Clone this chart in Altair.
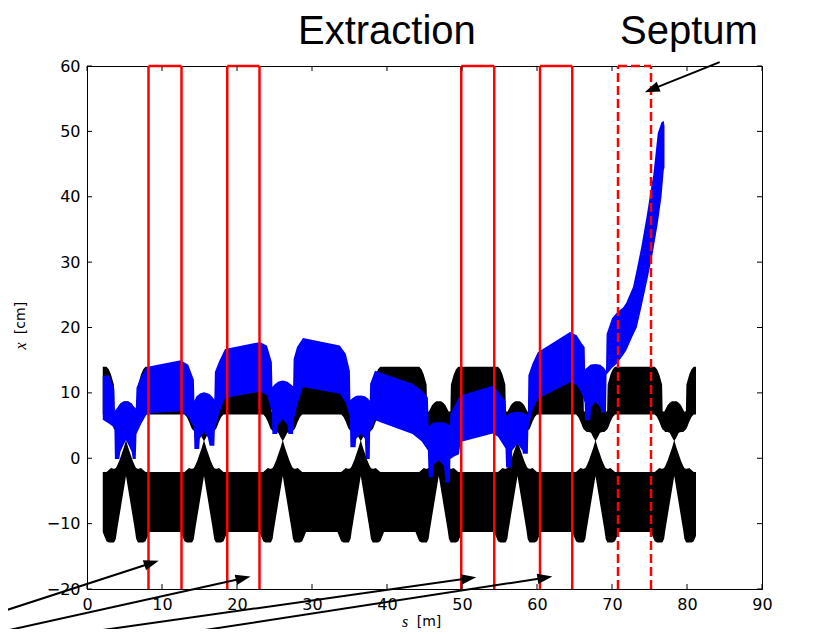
import math
import altair as alt
import pandas as pd

# ---------------- data ----------------
# quadrupole centres (s, m) of the circulating-beam envelope
QUADS = [5.2, 15.6, 26.1, 36.5, 46.9, 57.4, 67.8, 78.3]
ENV_START, ENV_END = 2.1, 81.2
# envelope profile around each quad: distance from quad centre (m) and edges (cm)
D_OFF = [0.0, 0.3, 0.6, 0.9, 1.2, 1.35, 1.55, 1.62, 1.7, 2.0, 2.3, 2.6, 2.9, 3.1]
UP_TOP = [8.7, 8.7, 8.5, 8.1, 7.4, 7.1, 7.2, 11.3, 11.6, 12.8, 13.6, 14.0, 14.0, 14.0]
UP_BOT = [2.6, 3.2, 3.9, 4.0, 4.0, 4.2, 4.4, 4.5, 4.7, 5.6, 6.3, 6.7, 6.7, 6.7]
LO_TOP = [2.8, 1.6, 0.6, -0.4, -1.2, -1.5, -1.6, -1.6, -1.6, -1.5, -1.8, -2.1, -2.1, -2.1]
LO_BOT = [-2.7, -4.8, -6.9, -9.0, -11.1, -12.3, -12.8, -12.9, -12.9, -12.9, -12.9, -12.7, -11.9, -11.3]

# extracted beam (blue band)
BLUE_S = [2.1, 2.9, 3.65, 3.72, 4.0, 4.3, 4.45, 4.85, 5.2, 5.55, 5.95, 6.1, 6.5, 6.6, 7.2, 7.9, 8.6,
          12.5, 13.5, 14.25, 14.32, 14.6, 14.95, 15.05, 15.6, 16.1, 16.35, 16.7, 16.98, 17.05, 17.6,
          18.4, 23.1, 24.0, 24.65, 24.72, 25.0, 25.35, 25.45, 26.1, 26.75, 26.85, 27.2, 27.48, 27.55,
          28.0, 28.8, 33.7, 34.5, 35.05, 35.12, 35.5, 35.8, 35.9, 36.5, 37.05, 37.15, 37.5, 37.7,
          37.75, 38.4, 43.4, 44.6, 45.45, 45.55, 45.9, 46.1, 46.2, 46.9, 47.6, 47.8, 48.1, 48.4,
          48.45, 49.0, 49.6, 49.8, 54.1, 54.8, 55.8, 55.88, 56.2, 56.6, 56.7, 57.4, 58.05, 58.12,
          58.5, 58.78, 58.85, 59.4, 60.1, 64.4, 65.3, 66.0, 66.35, 66.42, 66.8, 67.1, 67.2, 67.8,
          68.45, 68.55, 68.9, 69.2, 69.28, 70.0, 70.6, 71.5, 71.9, 72.8, 73.3, 73.9, 74.6, 75.3,
          75.5, 76.1, 76.6, 76.9, 77.0]
BLUE_LO = [5.9, 5.3, 4.7, -0.1, -0.1, -0.1, 1.0, 2.0, 2.8, 2.0, 1.0, -0.1, -0.1, 3.7, 5.2, 6.6, 6.9,
           7.2, 6.3, 4.7, 1.4, 1.4, 1.4, 3.0, 4.0, 3.2, 1.9, 1.9, 1.9, 4.5, 6.8,
           9.2, 10.2, 9.6, 7.0, 3.7, 3.7, 3.7, 5.0, 6.0, 5.0, 3.7, 3.7, 3.7, 5.8,
           8.0, 10.9, 9.85, 8.5, 6.3, 1.7, 1.7, 1.7, 3.0, 3.7, 3.0, -0.1, -0.1, -0.1,
           4.0, 5.8, 3.7, 2.6, 1.2, -2.9, -2.9, -2.9, -1.0, -0.35, -1.2, -3.7, -3.7, -3.7,
           -0.1, 0.3, 0.6, 2.5, 3.8, 3.3, 1.5, -1.4, -1.4, -1.4, 1.2, 2.2, 1.2, 0.7,
           0.7, 0.7, 4.7, 7.3, 9.1, 11.6, 11.2, 9.8, 8.5, 5.8, 5.8, 5.8, 7.8, 8.6,
           7.8, 7.0, 7.0, 7.0, 12.8, 13.8, 14.4, 15.8, 16.5, 18.8, 20.0, 23.0, 26.7, 30.6,
           31.8, 35.9, 40.0, 44.0, 44.5]
BLUE_HI = [12.6, 12.7, 10.6, 7.3, 7.7, 8.2, 8.4, 8.6, 8.7, 8.6, 8.4, 8.1, 7.6, 10.8, 12.5, 13.9, 14.1,
           15.0, 14.3, 12.0, 8.8, 9.5, 9.8, 9.9, 10.1, 9.95, 9.8, 9.4, 9.0, 13.2, 14.8,
           16.7, 17.8, 17.2, 14.7, 10.9, 11.3, 11.6, 11.7, 11.9, 11.7, 11.6, 11.3, 11.0, 15.2,
           17.0, 18.4, 17.25, 16.0, 13.4, 8.9, 9.3, 9.5, 9.55, 9.6, 9.5, 9.4, 9.1, 8.8,
           11.4, 13.4, 11.4, 10.4, 9.3, 4.8, 5.2, 5.4, 5.45, 5.5, 5.45, 5.4, 5.2, 5.0,
           6.8, 8.0, 9.4, 9.6, 11.1, 10.3, 8.7, 6.5, 6.8, 6.95, 7.0, 7.1, 7.0, 6.95,
           6.8, 6.5, 12.7, 14.5, 16.2, 19.3, 18.8, 17.5, 17.0, 13.6, 14.0, 14.3, 14.35, 14.4,
           14.3, 14.2, 13.9, 13.4, 19.0, 21.4, 22.2, 23.1, 23.8, 26.2, 28.9, 32.3, 36.9, 42.0,
           43.3, 49.7, 51.4, 51.6, 50.8]

# red boxes (extraction kickers) and dashed septum box
RED_LEFT = [8.2, 18.7, 49.9, 60.4]
RED_RIGHT = [12.6, 23.0, 54.3, 64.7]
SEPTUM_LEFT = [70.8]
SEPTUM_RIGHT = [75.2]

# annotation arrows (start -> tip, data units)
ARROW_START_S = [-11.64, -11.64, -11.64, -11.64, 84.36]
ARROW_START_Y = [-23.57, -26.6, -28.5, -31.1, 60.6]
ARROW_TIP_S = [9.56, 21.8, 51.9, 62.05, 74.36]
ARROW_TIP_Y = [-15.66, -18.1, -18.2, -18.1, 56.0]

ANNOT_TEXT = ["Extraction", "Septum"]
X_TICKS = [0, 10, 20, 30, 40, 50, 60, 70, 80, 90]
Y_TICKS = [-20, -10, 0, 10, 20, 30, 40, 50, 60]
X_DOMAIN = [0, 90]
Y_DOMAIN = [-20, 60]

# ---------------- layout ----------------
W, H = 675, 523
PX_S = W / (X_DOMAIN[1] - X_DOMAIN[0])
PX_Y = H / (Y_DOMAIN[1] - Y_DOMAIN[0])

xs = alt.Scale(domain=X_DOMAIN, nice=False, zero=False)
ys = alt.Scale(domain=Y_DOMAIN, nice=False, zero=False)

# envelope table built from the profile around each quad (long format)
rows = []
for q in QUADS:
    for i, d in enumerate(D_OFF):
        for sign in ((-1,) if d == 0 else (-1, 1)):
            s = round(q + sign * d, 4)
            if ENV_START - 1e-9 <= s <= ENV_END + 1e-9:
                rows.append({"s": s, "lo": UP_BOT[i], "hi": UP_TOP[i], "band": "upper"})
                rows.append({"s": s, "lo": LO_BOT[i], "hi": LO_TOP[i], "band": "lower"})
env = pd.DataFrame(rows).sort_values(["band", "s"]).reset_index(drop=True)
blue_df = pd.DataFrame({"s": BLUE_S, "lo": BLUE_LO, "hi": BLUE_HI})

black_chart = alt.Chart(env).mark_area(opacity=1, color="#000000").encode(
    x=alt.X("s:Q", scale=xs,
            axis=alt.Axis(values=X_TICKS, format="d", title=None, labelPadding=7,
                          labelFlush=False, labelOverlap=False, ticks=False, grid=False)),
    y=alt.Y("lo:Q", scale=ys, stack=None,
            axis=alt.Axis(values=Y_TICKS, format="d", title=None, labelPadding=7,
                          labelFlush=False, labelOverlap=False, ticks=False, grid=False)),
    y2="hi:Q",
    detail="band:N",
)
blue_chart = alt.Chart(blue_df).mark_area(opacity=1, color="#0000ff").encode(
    x="s:Q", y=alt.Y("lo:Q", stack=None), y2="hi:Q",
)

# red boxes
red_v = pd.DataFrame({"s": RED_LEFT + RED_RIGHT, "y0": Y_DOMAIN[0], "y1": Y_DOMAIN[1]})
red_vert = alt.Chart(red_v).mark_rule(color="#ff0000", strokeWidth=2.5).encode(
    x="s:Q", y="y0:Q", y2="y1:Q")
red_h = pd.DataFrame({"a": RED_LEFT, "b": RED_RIGHT, "y": Y_DOMAIN[1]})
red_top = alt.Chart(red_h).mark_rule(color="#ff0000", strokeWidth=2.5).encode(
    x="a:Q", x2="b:Q", y="y:Q")
sep_v = pd.DataFrame({"s": SEPTUM_LEFT + SEPTUM_RIGHT, "y0": Y_DOMAIN[0], "y1": Y_DOMAIN[1]})
sep_vert = alt.Chart(sep_v).mark_rule(color="#ff0000", strokeWidth=2.5, strokeDash=[9, 4]).encode(
    x="s:Q", y="y0:Q", y2="y1:Q")
sep_h = pd.DataFrame({"a": SEPTUM_LEFT, "b": SEPTUM_RIGHT, "y": Y_DOMAIN[1]})
sep_top = alt.Chart(sep_h).mark_rule(color="#ff0000", strokeWidth=2.5, strokeDash=[9, 4]).encode(
    x="a:Q", x2="b:Q", y="y:Q")

# inward ticks on all four sides
TL = 5
xt = pd.DataFrame({"t": X_TICKS})
yt = pd.DataFrame({"t": Y_TICKS})
tick_b = alt.Chart(xt).mark_rule(color="black", strokeWidth=1).encode(
    x="t:Q", y=alt.value(H), y2=alt.value(H - TL))
tick_t = alt.Chart(xt).mark_rule(color="black", strokeWidth=1).encode(
    x="t:Q", y=alt.value(0), y2=alt.value(TL))
tick_l = alt.Chart(yt).mark_rule(color="black", strokeWidth=1).encode(
    y="t:Q", x=alt.value(0), x2=alt.value(TL))
tick_r = alt.Chart(yt).mark_rule(color="black", strokeWidth=1).encode(
    y="t:Q", x=alt.value(W), x2=alt.value(W - TL))

# arrows
HEAD_LEN = 15
arr_rows = []
for s0, y0, s1, y1 in zip(ARROW_START_S, ARROW_START_Y, ARROW_TIP_S, ARROW_TIP_Y):
    dx = (s1 - s0) * PX_S
    dy = -(y1 - y0) * PX_Y
    L = math.hypot(dx, dy)
    ux, uy = dx / L, dy / L
    cs = s1 - ux * (HEAD_LEN / 2) / PX_S
    cy = y1 + uy * (HEAD_LEN / 2) / PX_Y
    ang = math.degrees(math.atan2(dy, dx)) % 360
    arr_rows.append({"s0": s0, "y0": y0, "cs": cs, "cy": cy, "ang": ang})
arr = pd.DataFrame(arr_rows)
arrow_lines = alt.Chart(arr).mark_rule(color="black", strokeWidth=2).encode(
    x="s0:Q", x2="cs:Q", y="y0:Q", y2="cy:Q")
arrow_heads = alt.Chart(arr).mark_point(
    shape="M1,0L-1,-0.7L-1,0.7Z", filled=True, color="black", opacity=1,
    size=HEAD_LEN ** 2, strokeWidth=0).encode(
    x="cs:Q", y="cy:Q", angle=alt.Angle("ang:Q", scale=None))

# texts
t_extr = alt.Chart(pd.DataFrame({"t": [ANNOT_TEXT[0]]})).mark_text(
    font="Liberation Sans", fontSize=40, align="left", baseline="alphabetic",
    color="black").encode(text="t:N", x=alt.value(211), y=alt.value(-22.5))
t_sept = alt.Chart(pd.DataFrame({"t": [ANNOT_TEXT[1]]})).mark_text(
    font="Liberation Sans", fontSize=40, align="left", baseline="alphabetic",
    color="black").encode(text="t:N", x=alt.value(533), y=alt.value(-22.5))

ylab_x = alt.Chart(pd.DataFrame({"t": ["x"]})).mark_text(
    font="Liberation Serif", fontStyle="italic", fontSize=16, angle=270,
    align="center", baseline="middle", color="black").encode(
    text="t:N", x=alt.value(-66), y=alt.value(280))
ylab_u = alt.Chart(pd.DataFrame({"t": ["[cm]"]})).mark_text(
    font="DejaVu Sans", fontSize=14, angle=270, align="center", baseline="middle",
    color="black").encode(text="t:N", x=alt.value(-66), y=alt.value(252))
xlab_s = alt.Chart(pd.DataFrame({"t": ["s"]})).mark_text(
    font="Liberation Serif", fontStyle="italic", fontSize=16, align="center",
    baseline="middle", color="black").encode(
    text="t:N", x=alt.value(318), y=alt.value(556))
xlab_u = alt.Chart(pd.DataFrame({"t": ["[m]"]})).mark_text(
    font="DejaVu Sans", fontSize=14, align="center", baseline="middle",
    color="black").encode(text="t:N", x=alt.value(342), y=alt.value(556))

chart = alt.layer(
    black_chart, blue_chart, red_vert, red_top, sep_vert, sep_top,
    tick_b, tick_t, tick_l, tick_r, arrow_lines, arrow_heads,
    t_extr, t_sept, ylab_x, ylab_u, xlab_s, xlab_u,
).properties(
    width=W, height=H,
    autosize=alt.AutoSizeParams(type="none"),
    padding={"left": 79, "top": 58, "right": 62, "bottom": 40},
    background="white",
).configure_view(
    stroke="black", strokeWidth=1
).configure_axis(
    labelFont="DejaVu Sans", labelFontSize=16, labelColor="black",
    domainColor="black", domainWidth=1, ticks=False, grid=False, zindex=1,
)

chart.save("out.html", embed_options={"renderer": "svg", "actions": False})
